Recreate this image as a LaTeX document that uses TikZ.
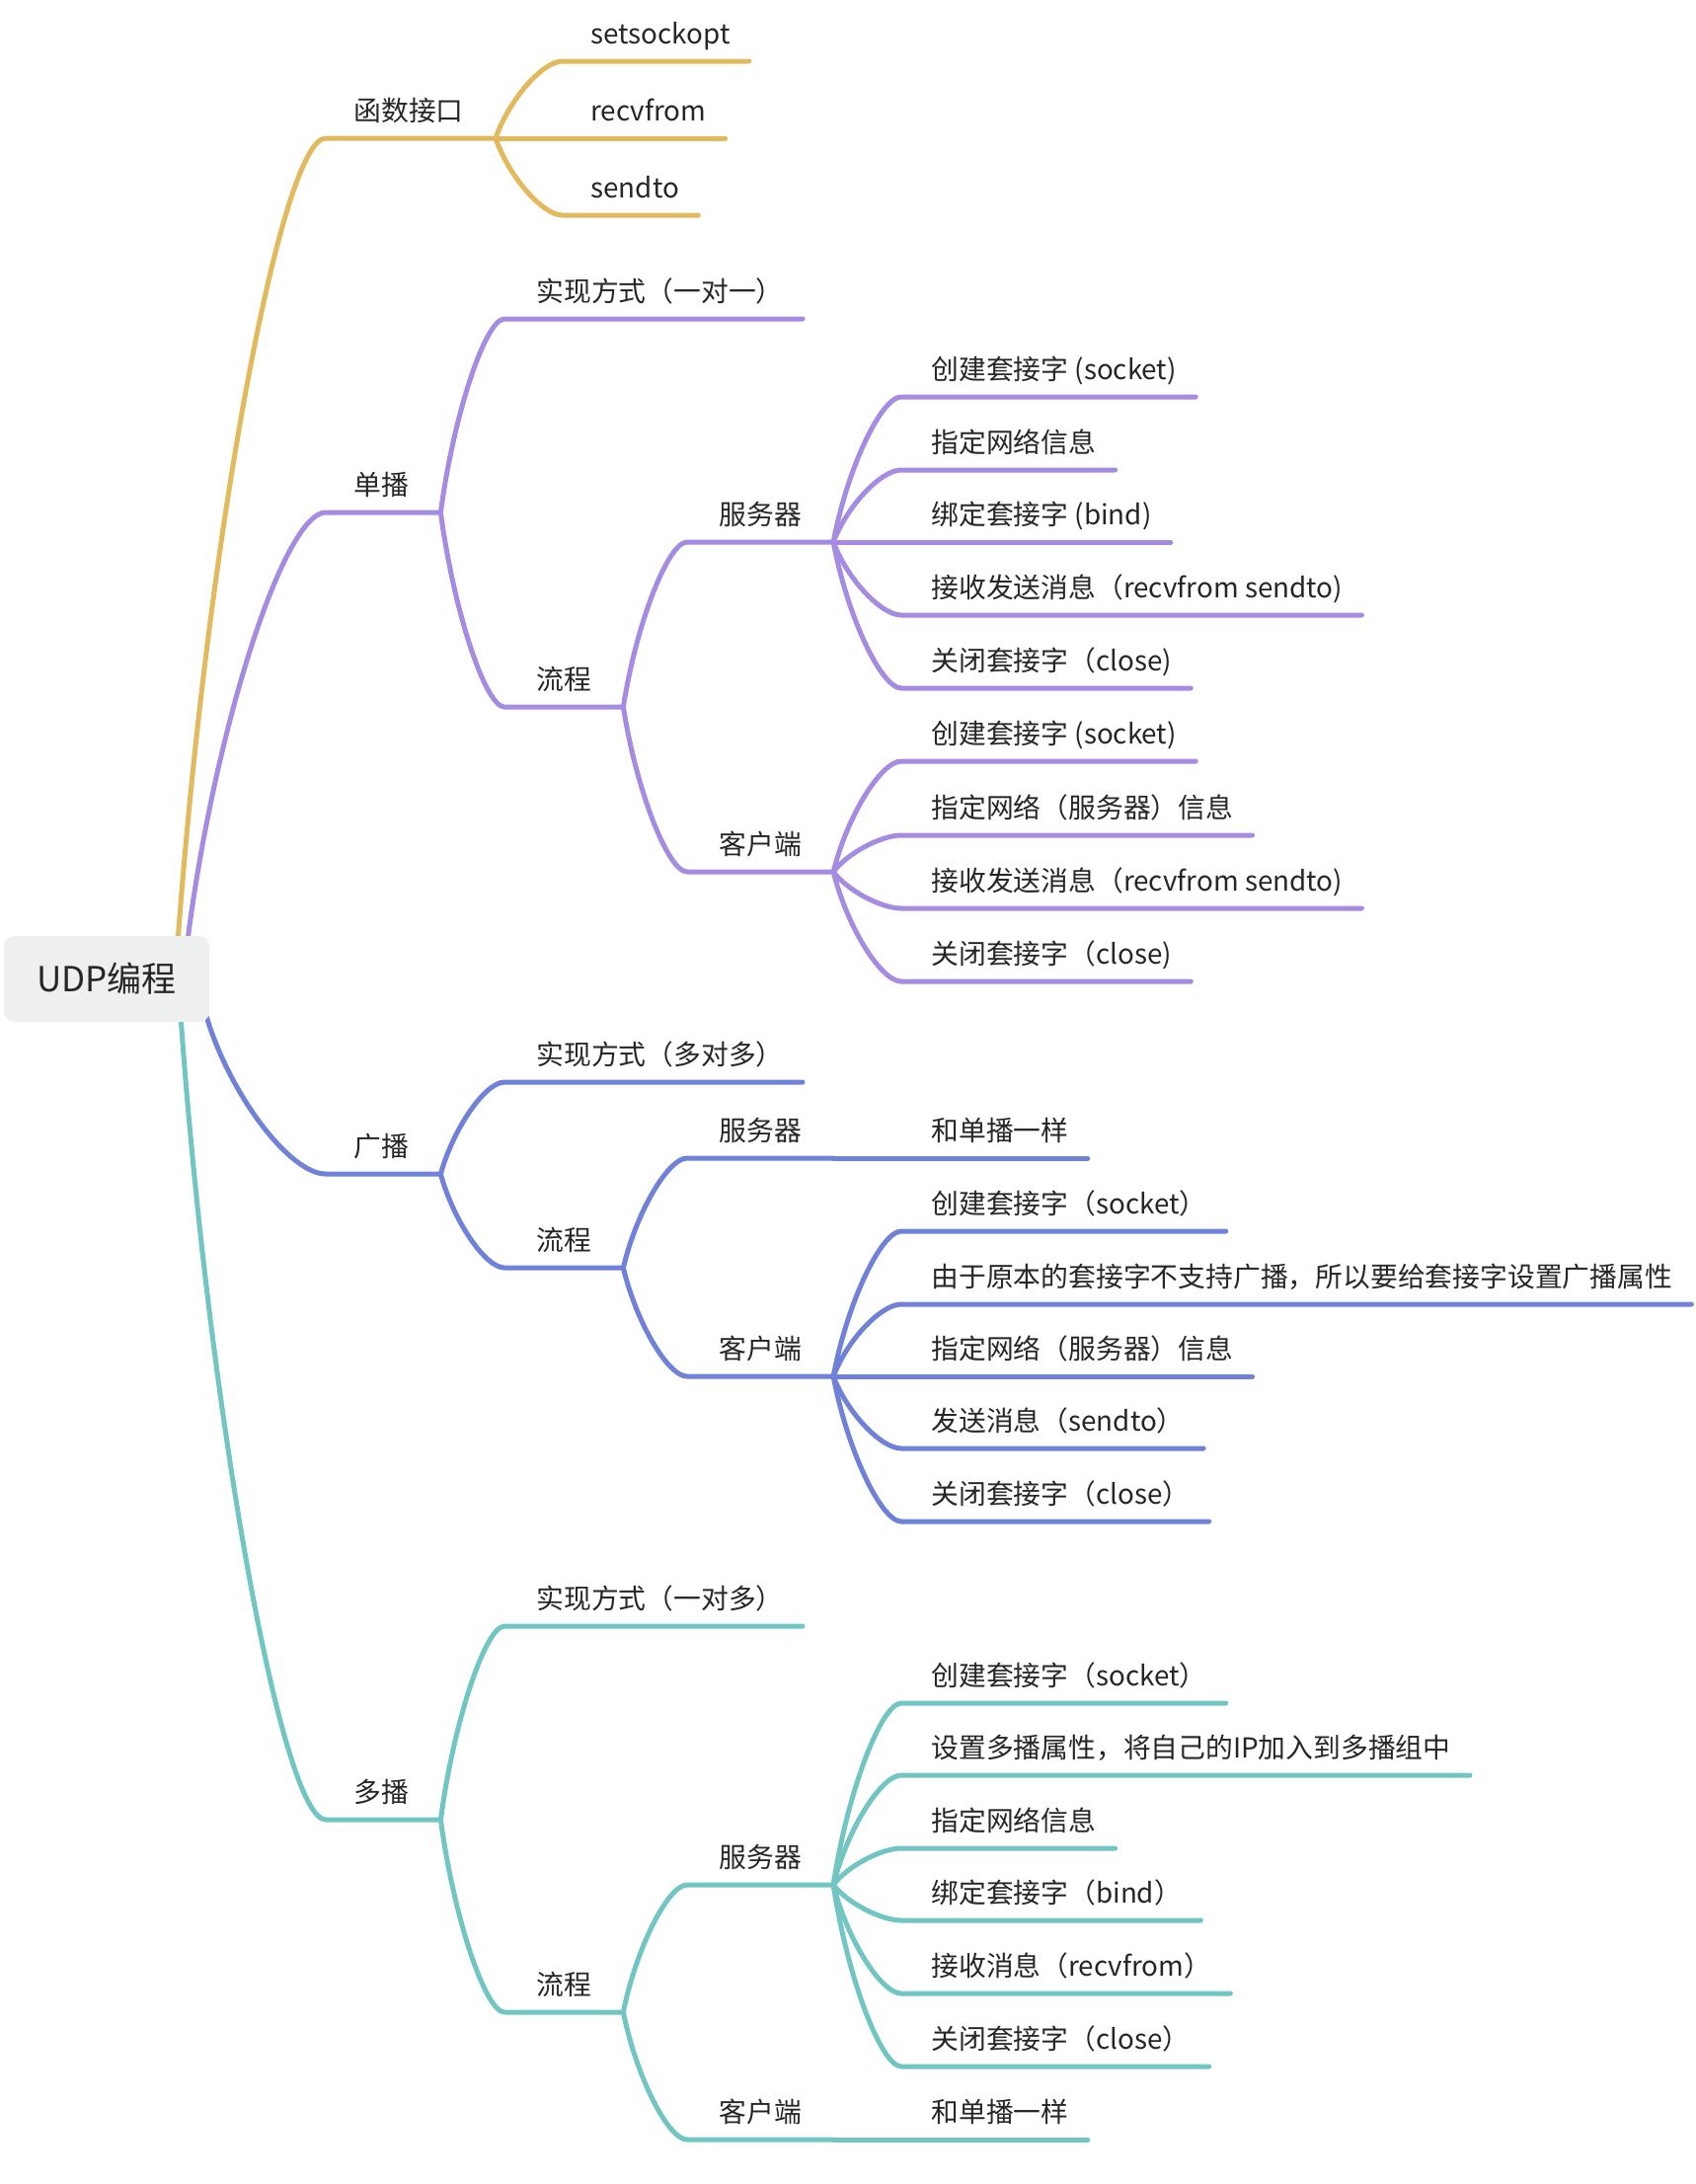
\documentclass[tikz,border=0pt]{standalone}
\usepackage{fontspec}
\newfontfamily\cjk{Noto Sans CJK SC}
\usepackage{tikz}
\usetikzlibrary{calc,backgrounds}
\definecolor{cyel}{RGB}{226,185,92}
\definecolor{cpur}{RGB}{165,140,226}
\definecolor{cblu}{RGB}{112,129,217}
\definecolor{ctea}{RGB}{113,197,195}
\definecolor{croot}{RGB}{238,240,239}
\definecolor{ctxt}{RGB}{38,38,38}

\begin{document}
\begin{tikzpicture}[x=0.5pt,y=-0.5pt,
    every node/.style={font=\cjk\fontsize{13.9pt}{16pt}\selectfont,text=ctxt,inner sep=0pt,anchor=base west},
    twig/.style={to path={let \p1=(\tikztostart), \p2=(\tikztotarget) in
       .. controls ({\x1+0.2*(\x2-\x1)},{0.5*(\y1+\y2)}) and ({\x2-0.3*(\x2-\x1)},\y2) .. (\tikztotarget)}},
    yline/.style={draw=cyel,line width=2.5pt,line cap=round},
    pline/.style={draw=cpur,line width=2.5pt,line cap=round},
    bline/.style={draw=cblu,line width=2.5pt,line cap=round},
    tline/.style={draw=ctea,line width=2.5pt,line cap=round}]
\useasboundingbox (0,0) rectangle (1718,2212);

%the root
    \node[anchor=center,fill=croot,rounded corners=5pt,minimum width=104pt,minimum height=43.5pt,
          font=\cjk\fontsize{17.5pt}{20pt}\selectfont] (root) at (108,991.5) {UDP编程};
    \coordinate (r1) at ($(root.north east)+(-32,2)$);
    \coordinate (r2) at ($(root.north east)+(-22,2)$);
    \coordinate (r3) at ($(root.south east)+(-3,-5)$);
    \coordinate (r4) at ($(root.south east)+(-29,-1)$);

%the function branch
    %the texts
    \node (fn) at (358,122) {函数接口};
    \coordinate (fnF) at ($(fn.base east)+(32,18)$);
    \node (so) at (598,44) {setsockopt};
    \node (rf) at (598,122) {recvfrom};
    \node (st) at (598,200) {sendto};
    %the lines
    \begin{scope}[on background layer]
       \draw[yline] (r1) to[twig] ($(fn.base west)+(-28,18)$) -- (fnF);
    \end{scope}
    \draw[yline] (fnF) to[twig] ($(so.base west)+(-28,18)$) -- ($(so.base east)+(19,18)$);
    \draw[yline] (fnF) to[twig] ($(rf.base west)+(-28,18)$) -- ($(rf.base east)+(19,18)$);
    \draw[yline] (fnF) to[twig] ($(st.base west)+(-28,18)$) -- ($(st.base east)+(19,18)$);

%the unicast branch
    %the texts
    \node (db) at (358,501) {单播};
    \coordinate (dbF) at ($(db.base east)+(32,18)$);
    \node (dbA) at (543,305) {实现方式（一对一）};
    \node (dbL) at (543,698) {流程};
    \coordinate (dbLF) at ($(dbL.base east)+(32,18)$);
    \node (dbS) at (728,531) {服务器};
    \coordinate (dbSF) at ($(dbS.base east)+(32,18)$);
    \node (dbC) at (728,865) {客户端};
    \coordinate (dbCF) at ($(dbC.base east)+(32,18)$);
    \node (dbs1) at (943,384) {创建套接字 (socket)};
    \node (dbs2) at (943,458) {指定网络信息};
    \node (dbs3) at (943,531) {绑定套接字 (bind)};
    \node (dbs4) at (943,605) {接收发送消息（recvfrom sendto)};
    \node (dbs5) at (943,679) {关闭套接字（close)};
    \node (dbc1) at (943,753) {创建套接字 (socket)};
    \node (dbc2) at (943,828) {指定网络（服务器）信息};
    \node (dbc3) at (943,902) {接收发送消息（recvfrom sendto)};
    \node (dbc4) at (943,976) {关闭套接字（close)};
    %the lines
    \begin{scope}[on background layer]
       \draw[pline] (r2) to[twig] ($(db.base west)+(-28,18)$) -- (dbF);
    \end{scope}
    \draw[pline] (dbF) to[twig] ($(dbA.base west)+(-32,18)$) -- ($(dbA.base east)+(19,18)$);
    \draw[pline] (dbF) to[twig] ($(dbL.base west)+(-32,18)$) -- (dbLF);
    \draw[pline] (dbLF) to[twig] ($(dbS.base west)+(-32,18)$) -- (dbSF);
    \draw[pline] (dbLF) to[twig] ($(dbC.base west)+(-32,18)$) -- (dbCF);
    \draw[pline] (dbSF) to[twig] ($(dbs1.base west)+(-30,18)$) -- ($(dbs1.base east)+(19,18)$);
    \draw[pline] (dbSF) to[twig] ($(dbs2.base west)+(-30,18)$) -- ($(dbs2.base east)+(19,18)$);
    \draw[pline] (dbSF) to[twig] ($(dbs3.base west)+(-30,18)$) -- ($(dbs3.base east)+(19,18)$);
    \draw[pline] (dbSF) to[twig] ($(dbs4.base west)+(-30,18)$) -- ($(dbs4.base east)+(19,18)$);
    \draw[pline] (dbSF) to[twig] ($(dbs5.base west)+(-30,18)$) -- ($(dbs5.base east)+(19,18)$);
    \draw[pline] (dbCF) to[twig] ($(dbc1.base west)+(-30,18)$) -- ($(dbc1.base east)+(19,18)$);
    \draw[pline] (dbCF) to[twig] ($(dbc2.base west)+(-30,18)$) -- ($(dbc2.base east)+(19,18)$);
    \draw[pline] (dbCF) to[twig] ($(dbc3.base west)+(-30,18)$) -- ($(dbc3.base east)+(19,18)$);
    \draw[pline] (dbCF) to[twig] ($(dbc4.base west)+(-30,18)$) -- ($(dbc4.base east)+(19,18)$);

%the broadcast branch
    %the texts
    \node (gb) at (358,1171) {广播};
    \coordinate (gbF) at ($(gb.base east)+(32,18)$);
    \node (gbA) at (543,1078) {实现方式（多对多）};
    \node (gbL) at (543,1266) {流程};
    \coordinate (gbLF) at ($(gbL.base east)+(32,18)$);
    \node (gbS) at (728,1155) {服务器};
    \coordinate (gbSF) at ($(gbS.base east)+(32,18)$);
    \node (gbC) at (728,1376) {客户端};
    \coordinate (gbCF) at ($(gbC.base east)+(32,18)$);
    \node (gbs1) at (943,1155) {和单播一样};
    \node (gbc1) at (943,1229) {创建套接字（socket）};
    \node (gbc2) at (943,1303) {由于原本的套接字不支持广播，所以要给套接字设置广播属性};
    \node (gbc3) at (943,1376) {指定网络（服务器）信息};
    \node (gbc4) at (943,1449) {发送消息（sendto）};
    \node (gbc5) at (943,1523) {关闭套接字（close）};
    %the lines
    \begin{scope}[on background layer]
       \draw[bline] (r3) to[twig] ($(gb.base west)+(-28,18)$) -- (gbF);
    \end{scope}
    \draw[bline] (gbF) to[twig] ($(gbA.base west)+(-32,18)$) -- ($(gbA.base east)+(19,18)$);
    \draw[bline] (gbF) to[twig] ($(gbL.base west)+(-32,18)$) -- (gbLF);
    \draw[bline] (gbLF) to[twig] ($(gbS.base west)+(-32,18)$) -- (gbSF);
    \draw[bline] (gbLF) to[twig] ($(gbC.base west)+(-32,18)$) -- (gbCF);
    \draw[bline] (gbSF) to[twig] ($(gbs1.base west)+(-30,18)$) -- ($(gbs1.base east)+(19,18)$);
    \draw[bline] (gbCF) to[twig] ($(gbc1.base west)+(-30,18)$) -- ($(gbc1.base east)+(19,18)$);
    \draw[bline] (gbCF) to[twig] ($(gbc2.base west)+(-30,18)$) -- ($(gbc2.base east)+(19,18)$);
    \draw[bline] (gbCF) to[twig] ($(gbc3.base west)+(-30,18)$) -- ($(gbc3.base east)+(19,18)$);
    \draw[bline] (gbCF) to[twig] ($(gbc4.base west)+(-30,18)$) -- ($(gbc4.base east)+(19,18)$);
    \draw[bline] (gbCF) to[twig] ($(gbc5.base west)+(-30,18)$) -- ($(gbc5.base east)+(19,18)$);

%the multicast branch
    %the texts
    \node (zb) at (358,1825) {多播};
    \coordinate (zbF) at ($(zb.base east)+(32,18)$);
    \node (zbA) at (543,1629) {实现方式（一对多）};
    \node (zbL) at (543,2020) {流程};
    \coordinate (zbLF) at ($(zbL.base east)+(32,18)$);
    \node (zbS) at (728,1891) {服务器};
    \coordinate (zbSF) at ($(zbS.base east)+(32,18)$);
    \node (zbC) at (728,2149) {客户端};
    \coordinate (zbCF) at ($(zbC.base east)+(32,18)$);
    \node (zbs1) at (943,1707) {创建套接字（socket）};
    \node (zbs2) at (943,1780) {设置多播属性，将自己的IP加入到多播组中};
    \node (zbs3) at (943,1854) {指定网络信息};
    \node (zbs4) at (943,1927) {绑定套接字（bind）};
    \node (zbs5) at (943,2001) {接收消息（recvfrom）};
    \node (zbs6) at (943,2075) {关闭套接字（close）};
    \node (zbc1) at (943,2149) {和单播一样};
    %the lines
    \begin{scope}[on background layer]
       \draw[tline] (r4) to[twig] ($(zb.base west)+(-28,18)$) -- (zbF);
    \end{scope}
    \draw[tline] (zbF) to[twig] ($(zbA.base west)+(-32,18)$) -- ($(zbA.base east)+(19,18)$);
    \draw[tline] (zbF) to[twig] ($(zbL.base west)+(-32,18)$) -- (zbLF);
    \draw[tline] (zbLF) to[twig] ($(zbS.base west)+(-32,18)$) -- (zbSF);
    \draw[tline] (zbLF) to[twig] ($(zbC.base west)+(-32,18)$) -- (zbCF);
    \draw[tline] (zbSF) to[twig] ($(zbs1.base west)+(-30,18)$) -- ($(zbs1.base east)+(19,18)$);
    \draw[tline] (zbSF) to[twig] ($(zbs2.base west)+(-30,18)$) -- ($(zbs2.base east)+(19,18)$);
    \draw[tline] (zbSF) to[twig] ($(zbs3.base west)+(-30,18)$) -- ($(zbs3.base east)+(19,18)$);
    \draw[tline] (zbSF) to[twig] ($(zbs4.base west)+(-30,18)$) -- ($(zbs4.base east)+(19,18)$);
    \draw[tline] (zbSF) to[twig] ($(zbs5.base west)+(-30,18)$) -- ($(zbs5.base east)+(19,18)$);
    \draw[tline] (zbSF) to[twig] ($(zbs6.base west)+(-30,18)$) -- ($(zbs6.base east)+(19,18)$);
    \draw[tline] (zbCF) to[twig] ($(zbc1.base west)+(-30,18)$) -- ($(zbc1.base east)+(19,18)$);
\end{tikzpicture}
\end{document}
